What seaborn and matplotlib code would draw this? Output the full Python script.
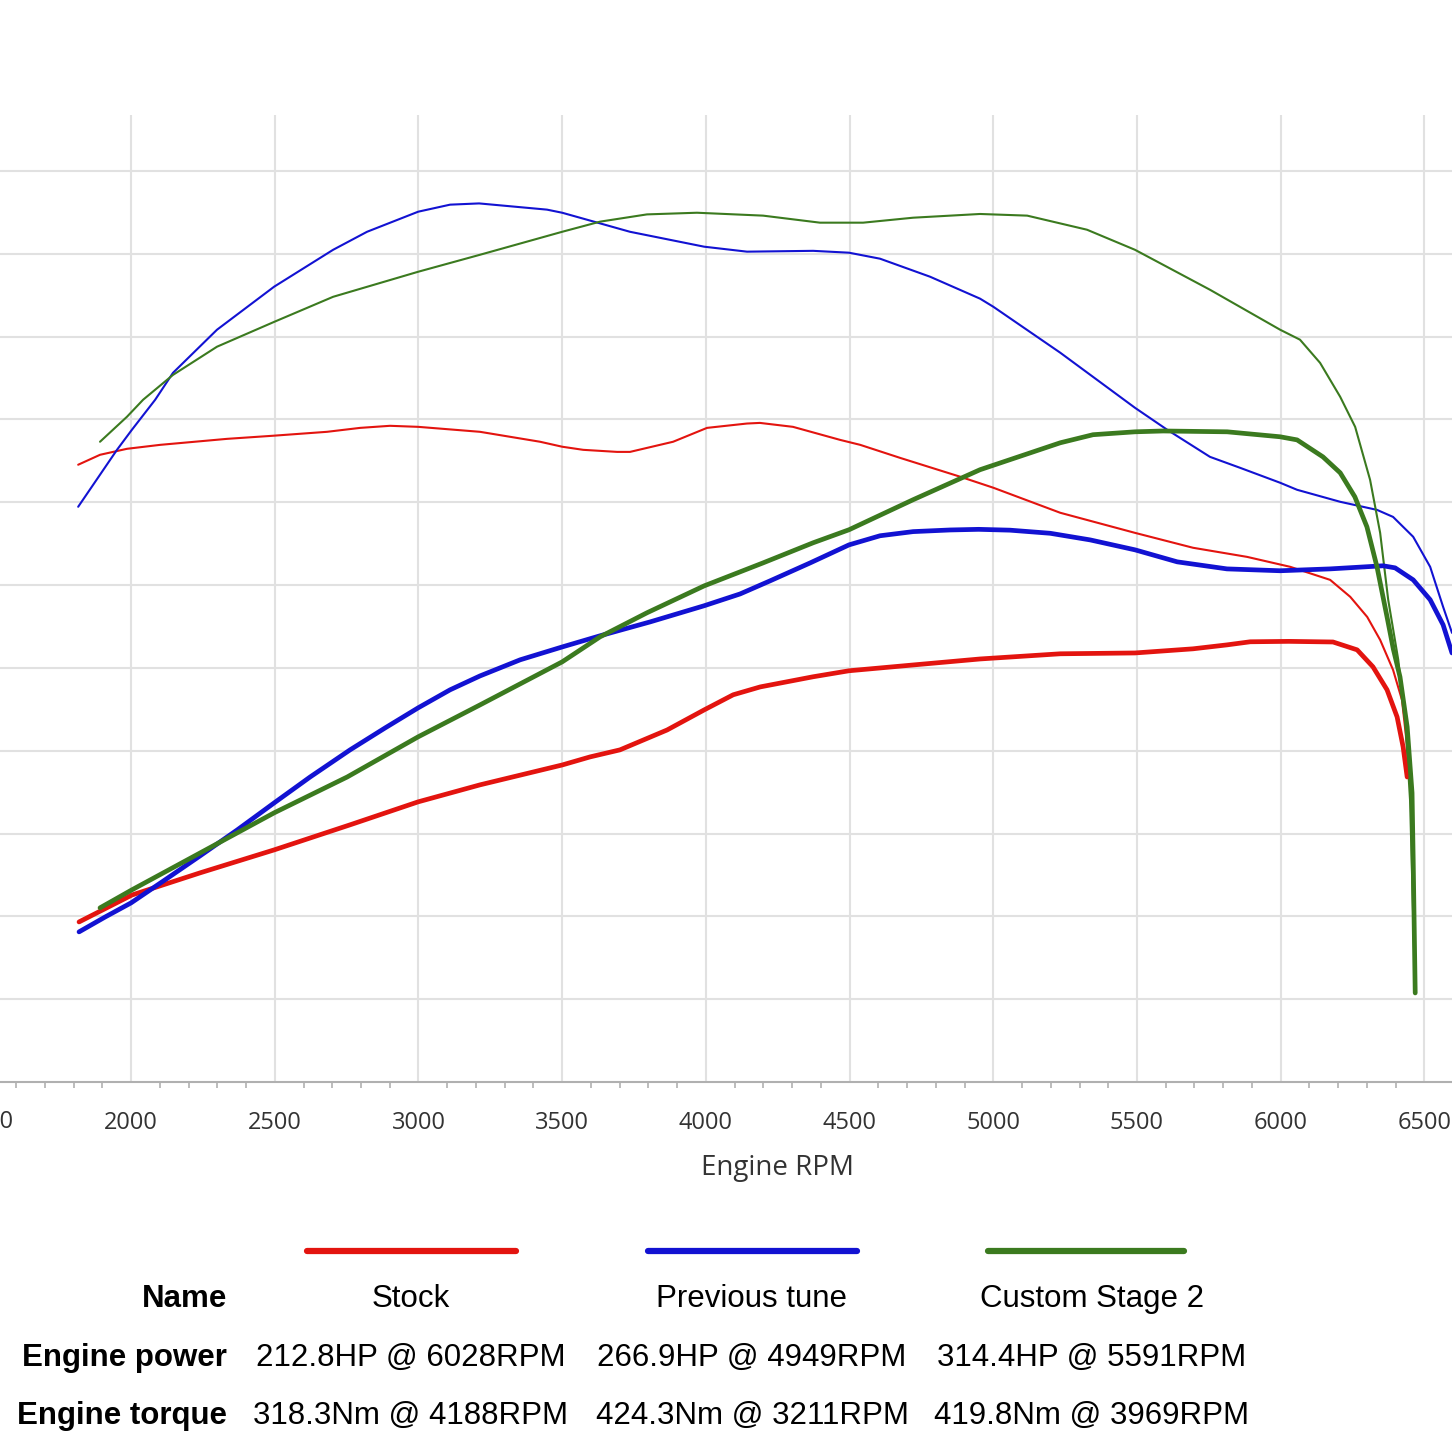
import matplotlib
matplotlib.use("Agg")
import matplotlib.pyplot as plt
from matplotlib.lines import Line2D
from matplotlib.ticker import MultipleLocator
import pandas as pd
import seaborn as sns

# values (rpm, Nm / HP share one scale)
stock_torque_rpm = [1816, 1892, 1986, 2101, 2334, 2494, 2682, 2797, 2901, 2999, 3214, 3423, 3500, 3573, 3691,
                    3736, 3886, 4004, 4143, 4188, 4303, 4467, 4537, 4676, 4885, 5000, 5233, 5493, 5695, 5883,
                    6033, 6172, 6242, 6301, 6346, 6391, 6422, 6440, 6446]
stock_torque = [298.1, 302.9, 305.8, 307.7, 310.6, 312.1, 314, 315.9, 316.9, 316.4, 314, 309.2, 306.8, 305.3, 304.3,
                304.3, 309.2, 315.9, 318.0, 318.3, 316.4, 310.1, 307.7, 301.4, 292.3, 287, 274.9, 265.2, 258, 253.6,
                248.8, 242.5, 234.3, 224.6, 213.5, 199, 184.5, 161.8, 148]

stock_power_rpm = [1819, 2003, 2240, 2498, 2762, 2999, 3214, 3500, 3597, 3701, 3865, 3994, 4095, 4189, 4373,
                   4498, 4721, 4954, 5233, 5493, 5695, 5813, 5894, 6028, 6182, 6266, 6321, 6370, 6405, 6426,
                   6440]
stock_power = [77.3, 90.3, 101, 112.1, 124.2, 135.3, 143.5, 153.1, 157, 160.4, 170, 179.7, 187, 190.8, 195.7,
               198.6, 201.4, 204.3, 206.8, 207.2, 209.2, 211.1, 212.6, 212.8, 212.5, 208.7, 200.5, 189.4, 176.3, 161.8,
               147.3]

prev_torque_rpm = [1816, 1951, 2003, 2084, 2146, 2299, 2498, 2703, 2821, 2999, 3110, 3211, 3447, 3500, 3736,
                   3994, 4143, 4373, 4498, 4606, 4780, 4954, 5000, 5233, 5493, 5605, 5754, 5859, 5998, 6057,
                   6207, 6335, 6391, 6461, 6520, 6565, 6596]
prev_torque = [277.8, 305.3, 315, 329.5, 342.5, 363.3, 384.1, 401.9, 410.6, 420.3, 423.7, 424.3, 421.3, 419.8, 410.6,
               403.4, 401, 401.4, 400.5, 397.6, 388.9, 378.3, 374.4, 352.2, 325.6, 315, 301.9, 296.6, 289.4, 286,
               280.2, 276.3, 272.9, 263.3, 248.8, 229.5, 216.9]

prev_power_rpm = [1819, 1910, 2000, 2118, 2240, 2369, 2498, 2623, 2762, 2884, 2999, 3110, 3214, 3354, 3500,
                  3632, 3806, 3994, 4119, 4223, 4363, 4498, 4606, 4721, 4850, 4949, 5058, 5198, 5337, 5493,
                  5640, 5813, 5998, 6172, 6356, 6398, 6461, 6520, 6565, 6596]
prev_power = [72.5, 79.7, 86.5, 97.6, 109.2, 121.7, 134.8, 147.3, 160.4, 171, 180.7, 189.4, 196.1, 203.9, 210.1,
              215.5, 222.2, 230, 235.7, 242, 250.7, 259.4, 263.8, 265.8, 266.6, 266.9, 266.5, 265, 261.8, 257,
              251.2, 247.8, 246.9, 247.8, 249.3, 248.3, 242.5, 232.9, 220.8, 207.2]

custom_torque_rpm = [1892, 1986, 2042, 2146, 2299, 2498, 2703, 2999, 3214, 3500, 3632, 3795, 3969, 4199, 4397,
                     4547, 4721, 4954, 5118, 5326, 5493, 5754, 5998, 6067, 6137, 6207, 6259, 6311, 6346, 6374,
                     6409, 6433, 6450, 6468]
custom_torque = [309.2, 321.3, 329.5, 341.5, 355.1, 367.1, 379.2, 391.3, 399.5, 410.6, 415.5, 419.0, 419.8, 418.4, 415,
                 415, 417.4, 419.2, 418.4, 411.6, 401.9, 382.6, 363.3, 358.5, 347.3, 330.9, 316.4, 290.8, 265.2, 232.9,
                 203.9, 174.9, 136.2, 43]

custom_power_rpm = [1892, 2003, 2240, 2498, 2752, 2999, 3214, 3500, 3632, 3795, 3994, 4199, 4373, 4498, 4721,
                    4954, 5233, 5347, 5493, 5591, 5814, 5998, 6057, 6147, 6207, 6258, 6300, 6335, 6370, 6392,
                    6415, 6440, 6457, 6461, 6468]
custom_power = [84.1, 92.8, 110.6, 130, 147.3, 166.7, 182.1, 202.9, 215, 226.6, 239.6, 250.7, 260.4, 266.7, 281.2,
                295.7, 308.7, 312.6, 314, 314.4, 314, 311.6, 310.1, 301.9, 294.2, 282.6, 268.1, 248.8, 224.6, 209,
                195.7, 171.5, 139.6, 107.2, 43]

names = ["Stock", "Previous tune", "Custom Stage 2"]
power_text = ["212.8HP @ 6028RPM", "266.9HP @ 4949RPM", "314.4HP @ 5591RPM"]
torque_text = ["318.3Nm @ 4188RPM", "424.3Nm @ 3211RPM", "419.8Nm @ 3969RPM"]
colors = ["#e3140f", "#1212d2", "#3b7a1f"]

sns.set_style("white")
plt.rcParams["font.family"] = ["Open Sans", "DejaVu Sans"]

fig = plt.figure(figsize=(14.52, 14.52), dpi=100)
ax = fig.add_axes([0, 1 - 1082 / 1452, 1, (1082 - 115) / 1452])

curves = [
    (stock_torque_rpm, stock_torque, colors[0], 1.5),
    (prev_torque_rpm, prev_torque, colors[1], 1.5),
    (custom_torque_rpm, custom_torque, colors[2], 1.5),
    (stock_power_rpm, stock_power, colors[0], 3.4),
    (prev_power_rpm, prev_power, colors[1], 3.4),
    (custom_power_rpm, custom_power, colors[2], 3.4),
]
for xs, ys, c, lw in curves:
    df = pd.DataFrame({"rpm": xs, "val": ys})
    sns.lineplot(data=df, x="rpm", y="val", ax=ax, color=c, lw=lw, estimator=None, sort=False,
                 solid_joinstyle="round")

ax.set_xlim(1544, 6596)
ax.set_ylim(0, 467)
ax.xaxis.set_major_locator(MultipleLocator(500))
ax.xaxis.set_minor_locator(MultipleLocator(100))
ax.set_yticks(range(40, 441, 40))
ax.tick_params(axis="y", left=False, labelleft=False)
ax.tick_params(axis="x", which="major", length=9, width=1.5, color="#b0b0b0",
               labelsize=17, labelcolor="#333333", pad=12)
ax.tick_params(axis="x", which="minor", length=4, width=1.2, color="#b0b0b0", bottom=True)
ax.grid(True, which="major", color="#e1e1e1", lw=1.5)
ax.set_axisbelow(True)
for s in ["top", "right", "left"]:
    ax.spines[s].set_visible(False)
ax.spines["bottom"].set_color("#b0b0b0")
ax.spines["bottom"].set_linewidth(1.5)
ax.set_xlabel("")
ax.set_ylabel("")

# the 1500 label sits half off the left edge, as in the original
fig.text(-13 / 1452, 1 - 1122 / 1452, "1500", ha="center", va="center", fontsize=17, color="#333333")
fig.text(777 / 1452, 1 - 1168 / 1452, "Engine RPM", ha="center", va="center",
         fontsize=20, color="#333333")

# table under the chart
tfont = ["Liberation Sans", "DejaVu Sans"]
line_x = [(307, 516), (648, 857), (988, 1184)]
col_x = [411, 752, 1092]
for (x0, x1), c in zip(line_x, colors):
    fig.add_artist(Line2D([x0 / 1452, x1 / 1452], [1 - 1251 / 1452] * 2, color=c, lw=4.5,
                          transform=fig.transFigure))
rows = [("Name", names, 1299), ("Engine power", power_text, 1358), ("Engine torque", torque_text, 1416)]
for label, vals, y in rows:
    fig.text(227 / 1452, 1 - y / 1452, label, ha="right", va="center", fontsize=22.5,
             fontweight="bold", family=tfont, color="black")
    for cx, v in zip(col_x, vals):
        fig.text(cx / 1452, 1 - y / 1452, v, ha="center", va="center", fontsize=22.5,
                 family=tfont, color="black")

fig.savefig("out.png", dpi=100)
